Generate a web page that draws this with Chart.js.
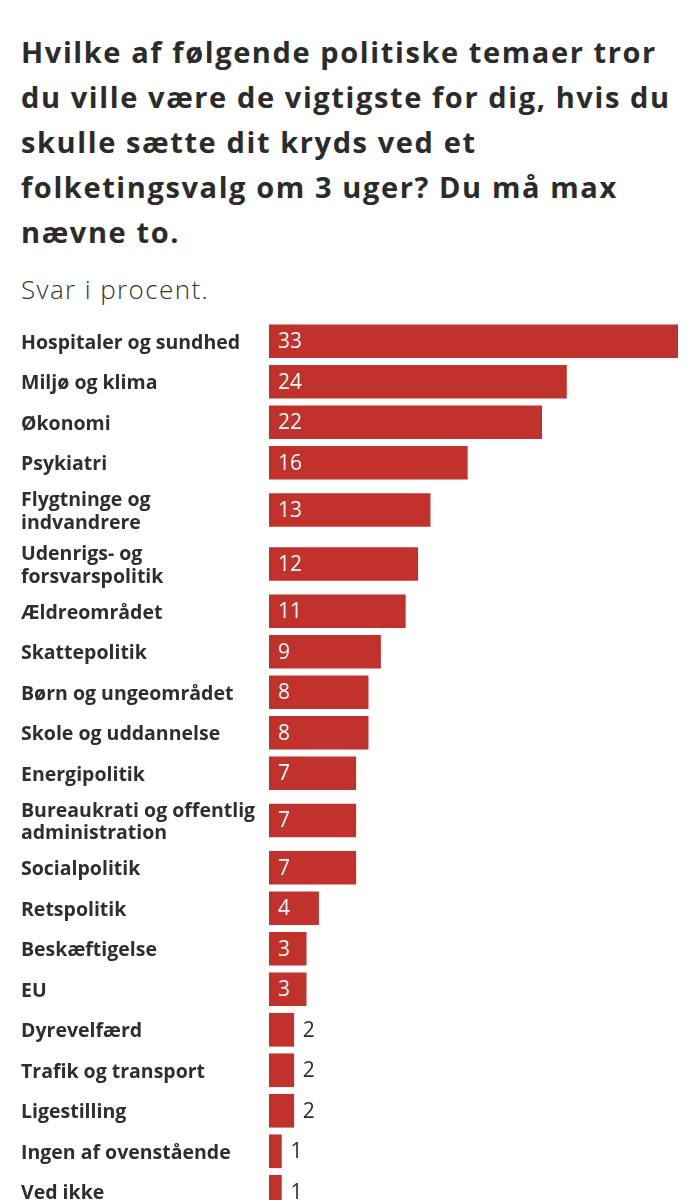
<!DOCTYPE html>
<html>
<head>
<meta charset="utf-8">
<script src="https://cdn.jsdelivr.net/npm/chart.js@4/dist/chart.umd.min.js"></script>
<style>
  html, body { margin: 0; padding: 0; background: #fff; }
  body { width: 699px; height: 1200px; overflow: hidden; position: relative; font-family: "Open Sans", sans-serif; }
  h1 { position: absolute; left: 21px; top: 29px; margin: 0; font-size: 29px; letter-spacing: 1.6px; line-height: 45px; font-weight: 700; color: #2b2b2b; white-space: nowrap; }
  .sub { position: absolute; left: 21px; top: 271px; font-size: 26px; letter-spacing: 1.4px; font-weight: 300; color: #333; }
  .wrap { position: absolute; left: 0; top: 321px; width: 699px; height: 900px; }
</style>
</head>
<body>
<h1>Hvilke af følgende politiske temaer tror<br>du ville være de vigtigste for dig, hvis du<br>skulle sætte dit kryds ved et<br>folketingsvalg om 3 uger? Du må max<br>nævne to.</h1>
<div class="sub">Svar i procent.</div>
<div class="wrap"><canvas id="chart"></canvas></div>
<script>
// Kategorier (flere linjer = array)
const categories = [
  'Hospitaler og sundhed',
  'Miljø og klima',
  'Økonomi',
  'Psykiatri',
  ['Flygtninge og', 'indvandrere'],
  ['Udenrigs- og', 'forsvarspolitik'],
  'Ældreområdet',
  'Skattepolitik',
  'Børn og ungeområdet',
  'Skole og uddannelse',
  'Energipolitik',
  ['Bureaukrati og offentlig', 'administration'],
  'Socialpolitik',
  'Retspolitik',
  'Beskæftigelse',
  'EU',
  'Dyrevelfærd',
  'Trafik og transport',
  'Ligestilling',
  'Ingen af ovenstående',
  'Ved ikke'
];
const values = [33, 24, 22, 16, 13, 12, 11, 9, 8, 8, 7, 7, 7, 4, 3, 3, 2, 2, 2, 1, 1];

const BAR_COLOR = '#c0322b';
const TEXT_COLOR = '#2e2e2e';

// rækkehøjde: to-linjers etiketter får mere plads
const rowSize = categories.map(c => Array.isArray(c) ? 4 / 3 : 1);
const rowPos = [];
let acc = 0;
rowSize.forEach(s => { rowPos.push(acc + s / 2); acc += s; });
const totalRows = acc;

const valueLabels = {
  id: 'valueLabels',
  afterDatasetsDraw(chart) {
    const ctx = chart.ctx;
    const meta = chart.getDatasetMeta(0);
    ctx.save();
    ctx.font = '400 21px "Open Sans", sans-serif';
    ctx.textBaseline = 'middle';
    ctx.textAlign = 'left';
    meta.data.forEach((bar, i) => {
      const v = values[i];
      if (v >= 3) {
        ctx.fillStyle = '#ffffff';
        ctx.fillText(String(v), bar.base + 9, bar.y + 1);
      } else {
        ctx.fillStyle = TEXT_COLOR;
        ctx.fillText(String(v), bar.x + 9, bar.y + 1);
      }
    });
    ctx.restore();
  }
};

new Chart(document.getElementById('chart'), {
  type: 'bar',
  data: {
    datasets: [{
      data: values.map((v, i) => ({ x: v, y: rowPos[i] })),
      backgroundColor: BAR_COLOR,
      barThickness: 33
    }]
  },
  options: {
    indexAxis: 'y',
    responsive: true,
    maintainAspectRatio: false,
    animation: false,
    layout: { padding: { left: 21, right: 21, top: 0, bottom: 9 } },
    plugins: { legend: { display: false }, tooltip: { enabled: false } },
    scales: {
      x: {
        type: 'linear',
        display: false,
        min: 0,
        max: Math.max(...values)
      },
      y: {
        type: 'linear',
        reverse: true,
        offset: false,
        min: 0,
        max: totalRows,
        grid: { display: false, offset: false },
        border: { display: false },
        afterBuildTicks(scale) {
          scale.ticks = rowPos.map(p => ({ value: p }));
        },
        afterFit(scale) {
          scale.width = 248;
          scale.paddingTop = 0;
          scale.paddingBottom = 0;
        },
        ticks: {
          autoSkip: false,
          crossAlign: 'far',
          padding: 0,
          labelOffset: 2,
          color: TEXT_COLOR,
          font: { family: '"Open Sans", sans-serif', size: 19.5, weight: '700', lineHeight: 1.15 },
          callback: (value, index) => categories[index]
        }
      }
    }
  },
  plugins: [valueLabels]
});
</script>
</body>
</html>
